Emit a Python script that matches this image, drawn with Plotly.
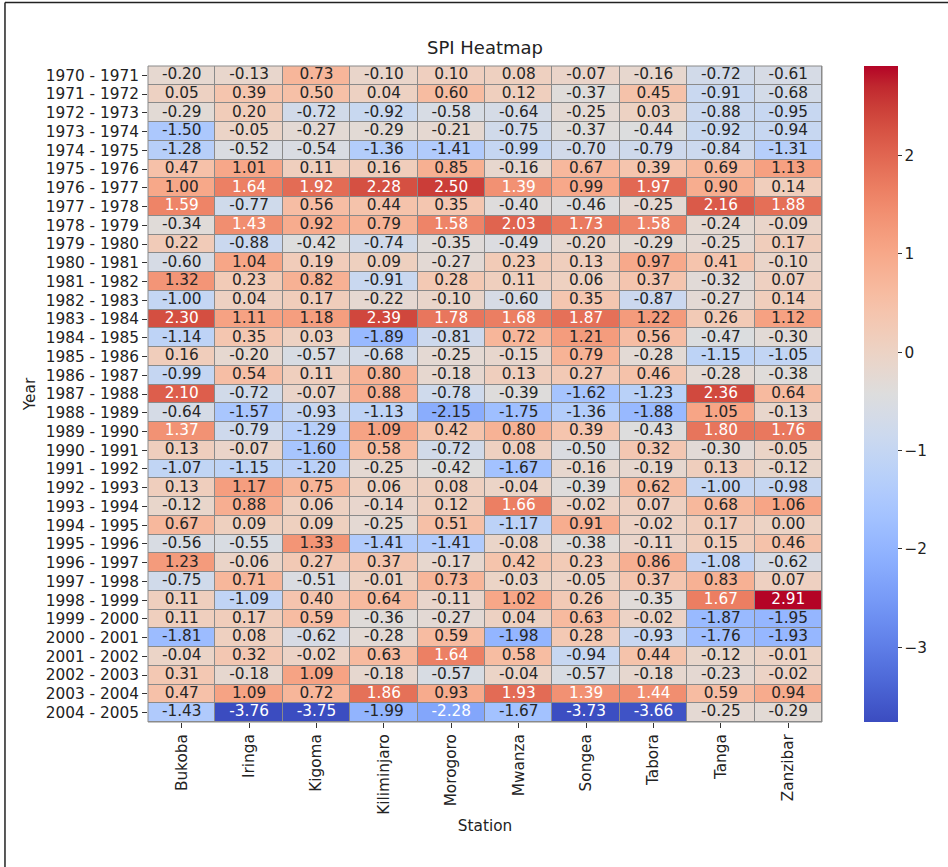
import numpy as np
import plotly.graph_objects as go

stations = ["Bukoba", "Iringa", "Kigoma", "Kiliminjaro", "Morogoro",
            "Mwanza", "Songea", "Tabora", "Tanga", "Zanzibar"]
years = [f"{y} - {y+1}" for y in range(1970, 2005)]

spi_rows = [
    [-0.20, -0.13, 0.73, -0.10, 0.10, 0.08, -0.07, -0.16, -0.72, -0.61],
    [0.05, 0.39, 0.50, 0.04, 0.60, 0.12, -0.37, 0.45, -0.91, -0.68],
    [-0.29, 0.20, -0.72, -0.92, -0.58, -0.64, -0.25, 0.03, -0.88, -0.95],
    [-1.50, -0.05, -0.27, -0.29, -0.21, -0.75, -0.37, -0.44, -0.92, -0.94],
    [-1.28, -0.52, -0.54, -1.36, -1.41, -0.99, -0.70, -0.79, -0.84, -1.31],
    [0.47, 1.01, 0.11, 0.16, 0.85, -0.16, 0.67, 0.39, 0.69, 1.13],
    [1.00, 1.64, 1.92, 2.28, 2.50, 1.39, 0.99, 1.97, 0.90, 0.14],
    [1.59, -0.77, 0.56, 0.44, 0.35, -0.40, -0.46, -0.25, 2.16, 1.88],
    [-0.34, 1.43, 0.92, 0.79, 1.58, 2.03, 1.73, 1.58, -0.24, -0.09],
    [0.22, -0.88, -0.42, -0.74, -0.35, -0.49, -0.20, -0.29, -0.25, 0.17],
    [-0.60, 1.04, 0.19, 0.09, -0.27, 0.23, 0.13, 0.97, 0.41, -0.10],
    [1.32, 0.23, 0.82, -0.91, 0.28, 0.11, 0.06, 0.37, -0.32, 0.07],
    [-1.00, 0.04, 0.17, -0.22, -0.10, -0.60, 0.35, -0.87, -0.27, 0.14],
    [2.30, 1.11, 1.18, 2.39, 1.78, 1.68, 1.87, 1.22, 0.26, 1.12],
    [-1.14, 0.35, 0.03, -1.89, -0.81, 0.72, 1.21, 0.56, -0.47, -0.30],
    [0.16, -0.20, -0.57, -0.68, -0.25, -0.15, 0.79, -0.28, -1.15, -1.05],
    [-0.99, 0.54, 0.11, 0.80, -0.18, 0.13, 0.27, 0.46, -0.28, -0.38],
    [2.10, -0.72, -0.07, 0.88, -0.78, -0.39, -1.62, -1.23, 2.36, 0.64],
    [-0.64, -1.57, -0.93, -1.13, -2.15, -1.75, -1.36, -1.88, 1.05, -0.13],
    [1.37, -0.79, -1.29, 1.09, 0.42, 0.80, 0.39, -0.43, 1.80, 1.76],
    [0.13, -0.07, -1.60, 0.58, -0.72, 0.08, -0.50, 0.32, -0.30, -0.05],
    [-1.07, -1.15, -1.20, -0.25, -0.42, -1.67, -0.16, -0.19, 0.13, -0.12],
    [0.13, 1.17, 0.75, 0.06, 0.08, -0.04, -0.39, 0.62, -1.00, -0.98],
    [-0.12, 0.88, 0.06, -0.14, 0.12, 1.66, -0.02, 0.07, 0.68, 1.06],
    [0.67, 0.09, 0.09, -0.25, 0.51, -1.17, 0.91, -0.02, 0.17, 0.00],
    [-0.56, -0.55, 1.33, -1.41, -1.41, -0.08, -0.38, -0.11, 0.15, 0.46],
    [1.23, -0.06, 0.27, 0.37, -0.17, 0.42, 0.23, 0.86, -1.08, -0.62],
    [-0.75, 0.71, -0.51, -0.01, 0.73, -0.03, -0.05, 0.37, 0.83, 0.07],
    [0.11, -1.09, 0.40, 0.64, -0.11, 1.02, 0.26, -0.35, 1.67, 2.91],
    [0.11, 0.17, 0.59, -0.36, -0.27, 0.04, 0.63, -0.02, -1.87, -1.95],
    [-1.81, 0.08, -0.62, -0.28, 0.59, -1.98, 0.28, -0.93, -1.76, -1.93],
    [-0.04, 0.32, -0.02, 0.63, 1.64, 0.58, -0.94, 0.44, -0.12, -0.01],
    [0.31, -0.18, 1.09, -0.18, -0.57, -0.04, -0.57, -0.18, -0.23, -0.02],
    [0.47, 1.09, 0.72, 1.86, 0.93, 1.93, 1.39, 1.44, 0.59, 0.94],
    [-1.43, -3.76, -3.75, -1.99, -2.28, -1.67, -3.73, -3.66, -0.25, -0.29],
]

z = np.array(spi_rows)
zmin, zmax = z.min(), z.max()

# matplotlib "coolwarm" (Moreland) colour table
cw = [
    (59, 76, 192), (68, 90, 204), (77, 104, 215), (87, 117, 225), (98, 130, 234),
    (108, 142, 241), (119, 154, 247), (130, 165, 251), (141, 176, 254), (152, 185, 255),
    (163, 194, 255), (174, 201, 253), (184, 208, 249), (194, 213, 244), (204, 217, 238),
    (213, 219, 230), (221, 221, 221), (229, 216, 209), (236, 211, 197), (241, 204, 185),
    (245, 196, 173), (247, 187, 160), (247, 177, 148), (247, 166, 135), (244, 154, 123),
    (241, 141, 111), (236, 127, 99), (229, 112, 88), (222, 96, 77), (213, 80, 66),
    (203, 62, 56), (192, 40, 47), (180, 4, 38),
]
stops = np.linspace(0, 1, len(cw))
colorscale = [[float(s), f"rgb{c}"] for s, c in zip(stops, cw)]
cw_arr = np.array(cw, dtype=float) / 255.0


def text_color(v):
    t = (v - zmin) / (zmax - zmin)
    rgb = np.array([np.interp(t, stops, cw_arr[:, k]) for k in range(3)])
    lin = np.where(rgb <= 0.03928, rgb / 12.92, ((rgb + 0.055) / 1.055) ** 2.4)
    lum = 0.2126 * lin[0] + 0.7152 * lin[1] + 0.0722 * lin[2]
    return "#262626" if lum > 0.408 else "white"


tx, ty, tt, tc = [], [], [], []
for i, yr in enumerate(years):
    for j, st in enumerate(stations):
        v = z[i, j]
        tx.append(st)
        ty.append(yr)
        tt.append(f"{v:.2f}")
        tc.append(text_color(v))

FONT = "DejaVu Sans"
FS = 15.3

fig = go.Figure()
fig.add_trace(go.Heatmap(
    z=z, x=stations, y=years, colorscale=colorscale, zmin=zmin, zmax=zmax,
    xgap=1, ygap=1, hoverinfo="skip",
    colorbar=dict(
        x=(864 - 148) / 674, xanchor="left", y=0.5, yanchor="middle",
        len=1, lenmode="fraction", thickness=33.5, thicknessmode="pixels",
        xpad=0, ypad=0, outlinewidth=0,
        tickvals=[-3, -2, -1, 0, 1, 2], ticks="outside", ticklen=4,
        tickcolor="#333", tickfont=dict(family=FONT, size=FS, color="#222"),
    ),
))
fig.add_trace(go.Scatter(
    x=tx, y=ty, text=tt, mode="text", hoverinfo="skip", showlegend=False,
    textfont=dict(family=FONT, size=FS, color=tc),
))

fig.update_layout(
    width=948, height=867,
    margin=dict(l=148, r=126, t=66, b=145, pad=0),
    paper_bgcolor="white", plot_bgcolor="#8a8a8a",
    font=dict(family=FONT, size=FS, color="#222"),
    title=dict(text="SPI Heatmap", x=485 / 948, xref="container", xanchor="center",
               y=1 - 48 / 867, yref="container", yanchor="middle",
               font=dict(family=FONT, size=18, color="#222")),
    xaxis=dict(
        title=dict(text="Station", standoff=6, font=dict(family=FONT, size=FS, color="#222")),
        range=[-0.5, len(stations) - 0.5], autorange=False,
        tickangle=-90, ticks="outside", ticklen=5, tickcolor="#333",
        showgrid=False, zeroline=False, tickfont=dict(family=FONT, size=FS, color="#222"),
    ),
    yaxis=dict(
        title=dict(text="Year", standoff=6, font=dict(family=FONT, size=FS, color="#222")),
        range=[len(years) - 0.5, -0.5], autorange=False,
        ticks="outside", ticklen=5, tickcolor="#333",
        showgrid=False, zeroline=False, tickfont=dict(family=FONT, size=FS, color="#222"),
    ),
    shapes=[
        dict(type="rect", xref="paper", yref="paper", x0=0, x1=1, y0=0, y1=1,
             line=dict(color="#8a8a8a", width=1), fillcolor="rgba(0,0,0,0)", layer="above"),
        dict(type="line", xref="paper", yref="paper", x0=-0.2122, x1=1.3,
             y0=1.0968, y1=1.0968, line=dict(color="#222", width=1.5)),
        dict(type="line", xref="paper", yref="paper", x0=-0.2122, x1=-0.2122,
             y0=1.0968, y1=-0.3, line=dict(color="#222", width=1.5)),
    ],
)

fig.write_html("out.html", config={"displayModeBar": False},
               post_script="document.body.style.margin='0';document.body.style.overflow='hidden';")
